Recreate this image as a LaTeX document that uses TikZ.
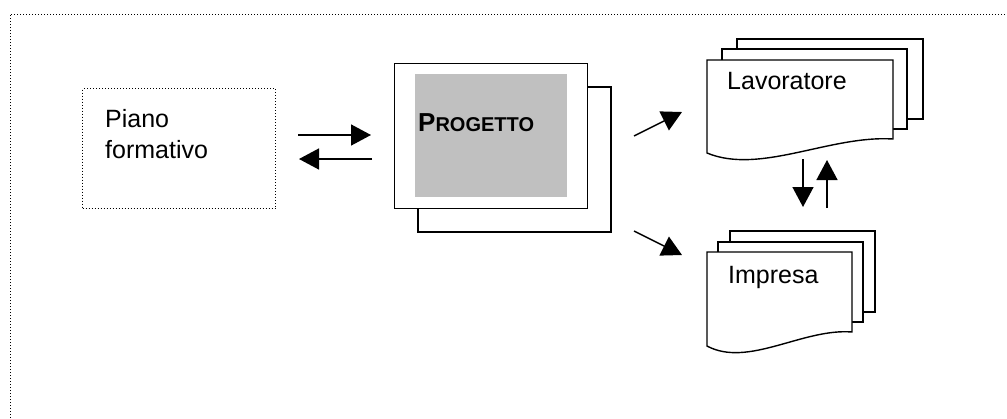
\documentclass[tikz,border=0pt]{standalone}
\usepackage{fontspec}
\setmainfont{Liberation Sans}
\usetikzlibrary{arrows.meta}
\tikzset{
  dotline/.style={line width=1pt, dash pattern=on 1pt off 2pt},
  page/.style={draw, line width=1.4pt, fill=white},
  arr/.style={line width=1.5pt, -{Triangle[length=20pt,width=21pt]}},
  lbl/.style={inner sep=0pt, font=\fontsize{25}{31}\selectfont, anchor=base west, align=left},
}
\begin{document}
\begin{tikzpicture}[x=1pt,y=-1pt]
\useasboundingbox (0,0) rectangle (1007,418);
% outer dotted frame
\coordinate (fbl) at (10,418);
\coordinate (ftl) at (10,14);
\coordinate (ftr) at (1007,14);
\draw[dotline] (fbl) -- (ftl) -- (ftr);
% Piano formativo
\node[draw, dotline, minimum width=193pt, minimum height=120pt, anchor=north west, inner sep=0pt] (piano) at (82,88) {};
\node[lbl] (pianotxt) at (105,158) {Piano\\formativo};
% Progetto
\draw[page] (418,87) rectangle (611,232);
\node[page, minimum width=193pt, minimum height=145pt, anchor=north west, inner sep=0pt] (prog) at (394,63) {};
\node[fill={rgb,255:red,192;green,192;blue,192}, minimum width=152pt, minimum height=123pt, anchor=north west, inner sep=0pt] (grey) at (415,74) {};
\node[inner sep=0pt, anchor=base west, font=\bfseries] (progtxt) at (418,131) {\fontsize{26}{30}\selectfont P\fontsize{20}{24}\selectfont ROGETTO};
% Lavoratore document stack
\draw[page] (737,39) rectangle (923,119);
\draw[page] (722,49) rectangle (907,129);
\draw[page] (707,153) -- (707,60) -- (893,60) -- (893,139) .. controls (830,135) and (760,175) .. (707,153) -- cycle;
\node[lbl] (lav) at (727,89) {Lavoratore};
% Impresa document stack
\draw[page] (730,231) rectangle (875,312);
\draw[page] (718,242) rectangle (863,322);
\draw[page] (707,346) -- (707,252) -- (852,252) -- (852,332) .. controls (803,328) and (748,368) .. (707,346) -- cycle;
\node[lbl] (imp) at (728,283) {Impresa};
% arrows
\coordinate (a1s) at (298,135); \coordinate (a1e) at (371,135);
\coordinate (a2s) at (372,159); \coordinate (a2e) at (299,159);
\coordinate (a3s) at (634,136); \coordinate (a3e) at (682,112);
\coordinate (a4s) at (634,231); \coordinate (a4e) at (682,255);
\coordinate (a5s) at (803,159); \coordinate (a5e) at (803,207);
\coordinate (a6s) at (827,208); \coordinate (a6e) at (827,160);
\draw[arr] (a1s) -- (a1e);
\draw[arr] (a2s) -- (a2e);
\draw[arr] (a3s) -- (a3e);
\draw[arr] (a4s) -- (a4e);
\draw[arr] (a5s) -- (a5e);
\draw[arr] (a6s) -- (a6e);
\end{tikzpicture}
\end{document}
